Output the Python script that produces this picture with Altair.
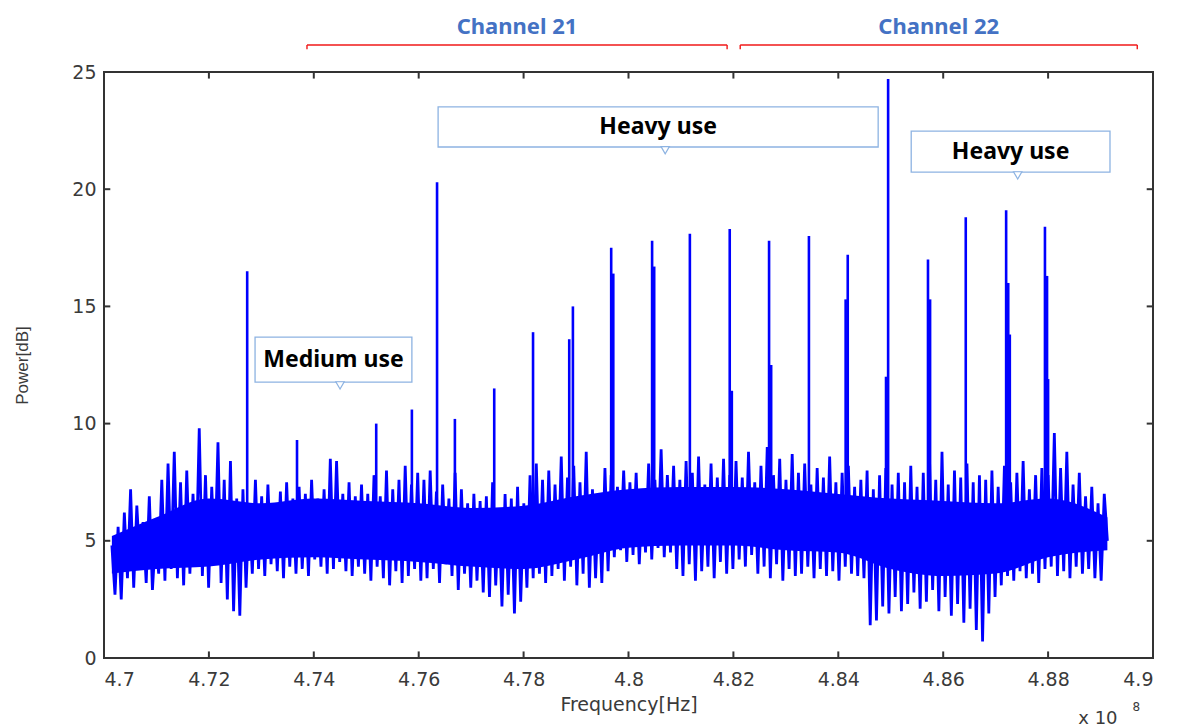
import altair as alt
import pandas as pd

# ---------------- data ----------------
# noise floor trace, sampled every 0.000595 (x1e8 Hz) from 4.7015
noise_start = 4.7015
noise_step = 0.000595
noise_power = [
    4.8, 2.7, 5.6, 2.5, 6.2, 3.4, 7.2, 3.0, 6.5, 4.0, 5.8, 3.2, 6.9, 2.9, 5.2, 3.6, 7.6, 3.3, 8.3, 3.8,
    8.8, 3.4, 7.5, 3.1, 8.0, 3.6, 7.0, 3.9, 9.8, 3.5, 7.8, 3.0, 7.3, 4.1, 9.2, 3.2, 7.6, 2.5, 8.4, 2.0,
    6.8, 1.8, 7.2, 3.0, 6.5, 3.6, 7.6, 3.8, 6.9, 3.5, 7.4, 4.0, 6.6, 3.7, 7.1, 3.4, 7.5, 3.9, 6.8, 3.6,
    7.3, 3.8, 7.0, 3.5, 7.6, 4.2, 6.8, 3.9, 7.2, 3.6, 8.5, 3.8, 8.4, 4.1, 7.0, 3.7, 7.5, 3.5, 6.9, 3.9,
    7.4, 3.6, 7.0, 3.3, 7.8, 3.9, 6.9, 3.4, 8.0, 3.1, 7.2, 3.7, 7.6, 3.2, 8.2, 3.5, 7.4, 3.8, 7.9, 3.3,
    7.6, 3.4, 8.0, 3.8, 7.1, 3.2, 7.4, 4.0, 6.8, 3.5, 7.9, 2.9, 7.2, 3.6, 6.6, 3.0, 7.0, 3.3, 6.7, 2.8,
    6.9, 2.6, 7.5, 3.1, 6.4, 2.2, 7.0, 2.7, 6.8, 1.9, 7.3, 2.4, 6.6, 3.0, 7.8, 3.4, 8.3, 3.6, 7.6, 3.2,
    8.0, 3.5, 7.4, 3.8, 8.6, 3.3, 7.7, 3.9, 8.2, 3.1, 7.5, 3.6, 8.8, 3.0, 7.2, 3.4, 7.0, 3.2, 8.1, 3.7,
    7.8, 4.3, 7.3, 4.6, 8.0, 4.1, 7.5, 4.4, 7.9, 4.0, 7.2, 4.5, 8.3, 4.2, 7.6, 4.7, 8.9, 4.3, 7.8, 4.5,
    8.2, 3.8, 7.6, 3.5, 8.4, 4.0, 7.9, 3.3, 8.6, 3.7, 7.4, 3.9, 8.3, 3.4, 7.7, 4.1, 8.5, 3.6, 7.8, 3.8,
    8.4, 4.2, 7.7, 3.9, 8.8, 4.4, 7.5, 3.6, 8.2, 3.9, 9.0, 3.4, 7.8, 4.0, 8.5, 3.3, 7.6, 3.8, 8.7, 3.5,
    7.9, 3.6, 8.3, 3.9, 7.4, 3.4, 8.1, 3.8, 7.7, 3.5, 8.6, 3.7, 7.5, 3.3, 7.9, 3.9, 8.2, 3.6, 7.3, 3.5,
    7.6, 3.4, 8.0, 1.4, 7.2, 1.6, 7.8, 2.2, 8.1, 1.9, 7.4, 2.6, 7.9, 2.0, 7.5, 2.3, 8.2, 2.8, 7.3, 2.1,
    7.9, 2.4, 8.5, 2.9, 7.6, 2.0, 8.8, 2.6, 7.4, 1.8, 8.0, 2.3, 7.7, 1.5, 8.3, 2.1, 7.5, 1.2, 7.8, 0.7,
    7.6, 1.9, 8.0, 2.6, 7.3, 3.1, 8.2, 3.5, 7.5, 3.3, 7.9, 3.7, 8.4, 3.4, 7.2, 3.6, 7.8, 3.2, 8.1, 3.8,
    7.8, 3.9, 9.6, 3.5, 8.1, 3.7, 8.8, 3.4, 7.4, 3.9, 7.9, 3.6, 6.9, 3.8, 7.3, 3.4, 6.6, 3.3, 7.0, 5.0,
]

# solid core of the noise band (where the trace overlaps itself)
core_freq = [4.7015, 4.71, 4.72, 4.73, 4.74, 4.75, 4.76, 4.77, 4.78, 4.79,
             4.80, 4.81, 4.82, 4.83, 4.84, 4.85, 4.86, 4.87, 4.88, 4.8913]
core_low = [3.6, 3.8, 3.9, 4.2, 4.3, 4.2, 4.1, 3.9, 3.8, 4.2,
            4.7, 4.8, 4.8, 4.6, 4.5, 3.8, 3.5, 3.6, 4.3, 4.6]
core_high = [5.2, 6.0, 6.8, 6.6, 6.8, 6.7, 6.6, 6.4, 6.5, 6.9,
             7.2, 7.3, 7.3, 7.2, 7.0, 6.8, 6.7, 6.6, 6.8, 6.0]

# narrow carrier spikes (frequency x1e8 Hz, peak power dB)
spike_freq = [4.7273, 4.7368, 4.7519, 4.7587, 4.7635, 4.7669, 4.7744, 4.7818, 4.7887, 4.7894,
              4.7967, 4.7971, 4.8045, 4.8049, 4.8117, 4.8193, 4.8197, 4.8268, 4.8272, 4.8344,
              4.8414, 4.8418, 4.8491, 4.8495, 4.8571, 4.8575, 4.8643, 4.8720, 4.8724, 4.8727,
              4.8794, 4.8798, 4.8800]
spike_peak = [16.5, 9.3, 10.0, 10.6, 20.3, 10.2, 11.5, 13.9, 13.6, 15.0,
              17.5, 16.4, 17.8, 16.7, 18.1, 18.3, 11.4, 17.8, 12.5, 18.0,
              15.3, 17.2, 12.0, 24.7, 17.0, 15.3, 18.8, 19.1, 16.0, 13.8,
              18.4, 16.3, 11.9]
spike_base = 6.0

x_ticks = [4.70, 4.72, 4.74, 4.76, 4.78, 4.80, 4.82, 4.84, 4.86, 4.88, 4.90]
y_ticks = [0, 5, 10, 15, 20, 25]

channel_names = ["Channel 21", "Channel 22"]
channel_start = [4.7387, 4.8213]
channel_end = [4.8188, 4.8970]

callout_text = ["Medium use", "Heavy use", "Heavy use"]
callout_x1 = [4.7288, 4.7637, 4.8539]
callout_x2 = [4.7587, 4.8476, 4.8918]
callout_y1 = [11.77, 21.80, 20.73]
callout_y2 = [13.69, 23.51, 22.48]
callout_tail = [4.7450, 4.8070, 4.8742]

# ---------------- tables ----------------
noise_df = pd.DataFrame({
    "freq": [noise_start + i * noise_step for i in range(len(noise_power))],
    "power": noise_power,
})
core_df = pd.DataFrame({"freq": core_freq, "low": core_low, "high": core_high})
spike_df = pd.DataFrame({"freq": spike_freq, "peak": spike_peak, "base": spike_base})

chan_df = pd.DataFrame({
    "name": channel_names, "start": channel_start, "end": channel_end,
    "mid": [(a + b) / 2 for a, b in zip(channel_start, channel_end)],
    "ly": 26.15, "ty": 26.93,
})
chan_ends = pd.DataFrame({
    "x": channel_start + channel_end, "ly": 26.15, "lt": 25.97,
})

call_df = pd.DataFrame({
    "text": callout_text, "x1": callout_x1, "x2": callout_x2,
    "y1": callout_y1, "y2": callout_y2, "tail": callout_tail,
    "tx": [(a + b) / 2 for a, b in zip(callout_x1, callout_x2)],
    "ty": [(a + b) / 2 for a, b in zip(callout_y1, callout_y2)],
    "taily": [y - 0.14 for y in callout_y1],
})

xt_df = pd.DataFrame({"t": x_ticks})
yt_df = pd.DataFrame({"t": y_ticks})

xscale = alt.Scale(domain=[4.7, 4.9], nice=False, zero=False)
yscale = alt.Scale(domain=[0, 25], nice=False)

txt_col = "#3a3a3a"
axis_common = dict(
    domain=False, ticks=False, grid=False,
    labelFont="DejaVu Sans", labelFontSize=19, labelColor=txt_col,
    titleFontWeight="normal", titleColor=txt_col,
)

blue = "#0000FF"

core = alt.Chart(core_df).mark_area(color=blue, opacity=1, interpolate="monotone").encode(
    x=alt.X("freq:Q", scale=xscale,
            axis=alt.Axis(values=x_ticks, format=".2~f", labelPadding=12,
                          title="Frequency[Hz]", titleFont="DejaVu Sans",
                          titleFontSize=19, titlePadding=6, **axis_common)),
    y=alt.Y("low:Q", scale=yscale,
            axis=alt.Axis(values=y_ticks, labelPadding=8,
                          title="Power[dB]", titleFont="Liberation Sans",
                          titleFontSize=17, titlePadding=40, **axis_common)),
    y2="high:Q",
)

noise = alt.Chart(noise_df).mark_line(color=blue, strokeWidth=2.8).encode(
    x="freq:Q", y="power:Q",
)

spikes = alt.Chart(spike_df).mark_rule(color=blue, strokeWidth=2.6).encode(
    x="freq:Q", y="base:Q", y2="peak:Q",
)

# inward ticks on all four sides
tick_col = "#333333"
xt_bottom = alt.Chart(xt_df).mark_rule(color=tick_col, strokeWidth=2).encode(
    x="t:Q", y=alt.datum(0), y2=alt.datum(0.28))
xt_top = alt.Chart(xt_df).mark_rule(color=tick_col, strokeWidth=2).encode(
    x="t:Q", y=alt.datum(25), y2=alt.datum(24.72))
yt_left = alt.Chart(yt_df).mark_rule(color=tick_col, strokeWidth=2).encode(
    y="t:Q", x=alt.datum(4.7), x2=alt.datum(4.7012))
yt_right = alt.Chart(yt_df).mark_rule(color=tick_col, strokeWidth=2).encode(
    y="t:Q", x=alt.datum(4.9), x2=alt.datum(4.8988))

red = "#F01818"
bracket = alt.Chart(chan_df).mark_rule(color=red, strokeWidth=1.4).encode(
    x="start:Q", x2="end:Q", y="ly:Q")
bracket_ends = alt.Chart(chan_ends).mark_rule(color=red, strokeWidth=1.4).encode(
    x="x:Q", y="ly:Q", y2="lt:Q")
chan_text = alt.Chart(chan_df).mark_text(
    color="#4472C4", font="Noto Sans", fontSize=22, fontWeight="bold",
    baseline="middle", align="center").encode(
    x="mid:Q", y="ty:Q", text="name:N")

box_col = "#8DB3E2"
boxes = alt.Chart(call_df).mark_rect(fill="white", stroke=box_col, strokeWidth=1.3).encode(
    x="x1:Q", x2="x2:Q", y="y1:Q", y2="y2:Q")
tails = alt.Chart(call_df).mark_point(
    shape="triangle-down", filled=True, fill="white", stroke=box_col,
    strokeWidth=1.2, size=70, opacity=1).encode(
    x="tail:Q", y="taily:Q")
box_text = alt.Chart(call_df).mark_text(
    color="black", font="Noto Sans", fontSize=23, fontWeight="bold",
    baseline="middle", align="center").encode(
    x="tx:Q", y="ty:Q", text="text:N")

exp_df = pd.DataFrame({"x": [4.8895], "y": [-2.6], "t": ["x 10"]})
exp_sup = pd.DataFrame({"x": [4.8968], "y": [-2.1], "t": ["8"]})
exp_text = alt.Chart(exp_df).mark_text(
    font="DejaVu Sans", fontSize=18, color=txt_col, align="center",
    baseline="middle").encode(x="x:Q", y="y:Q", text="t:N")
exp_text2 = alt.Chart(exp_sup).mark_text(
    font="DejaVu Sans", fontSize=12, color=txt_col, align="center",
    baseline="middle").encode(x="x:Q", y="y:Q", text="t:N")

chart = alt.layer(
    core, noise, spikes, xt_bottom, xt_top, yt_left, yt_right,
    bracket, bracket_ends, chan_text, boxes, tails, box_text,
    exp_text, exp_text2,
).properties(
    width=1049, height=586,
    autosize=alt.AutoSizeParams(type="none"),
    padding={"left": 104, "top": 72, "right": 30, "bottom": 70},
    background="white",
).configure_view(
    stroke="#333333", strokeWidth=2,
)

chart.save("out.html", embed_options={"renderer": "svg", "actions": False})
